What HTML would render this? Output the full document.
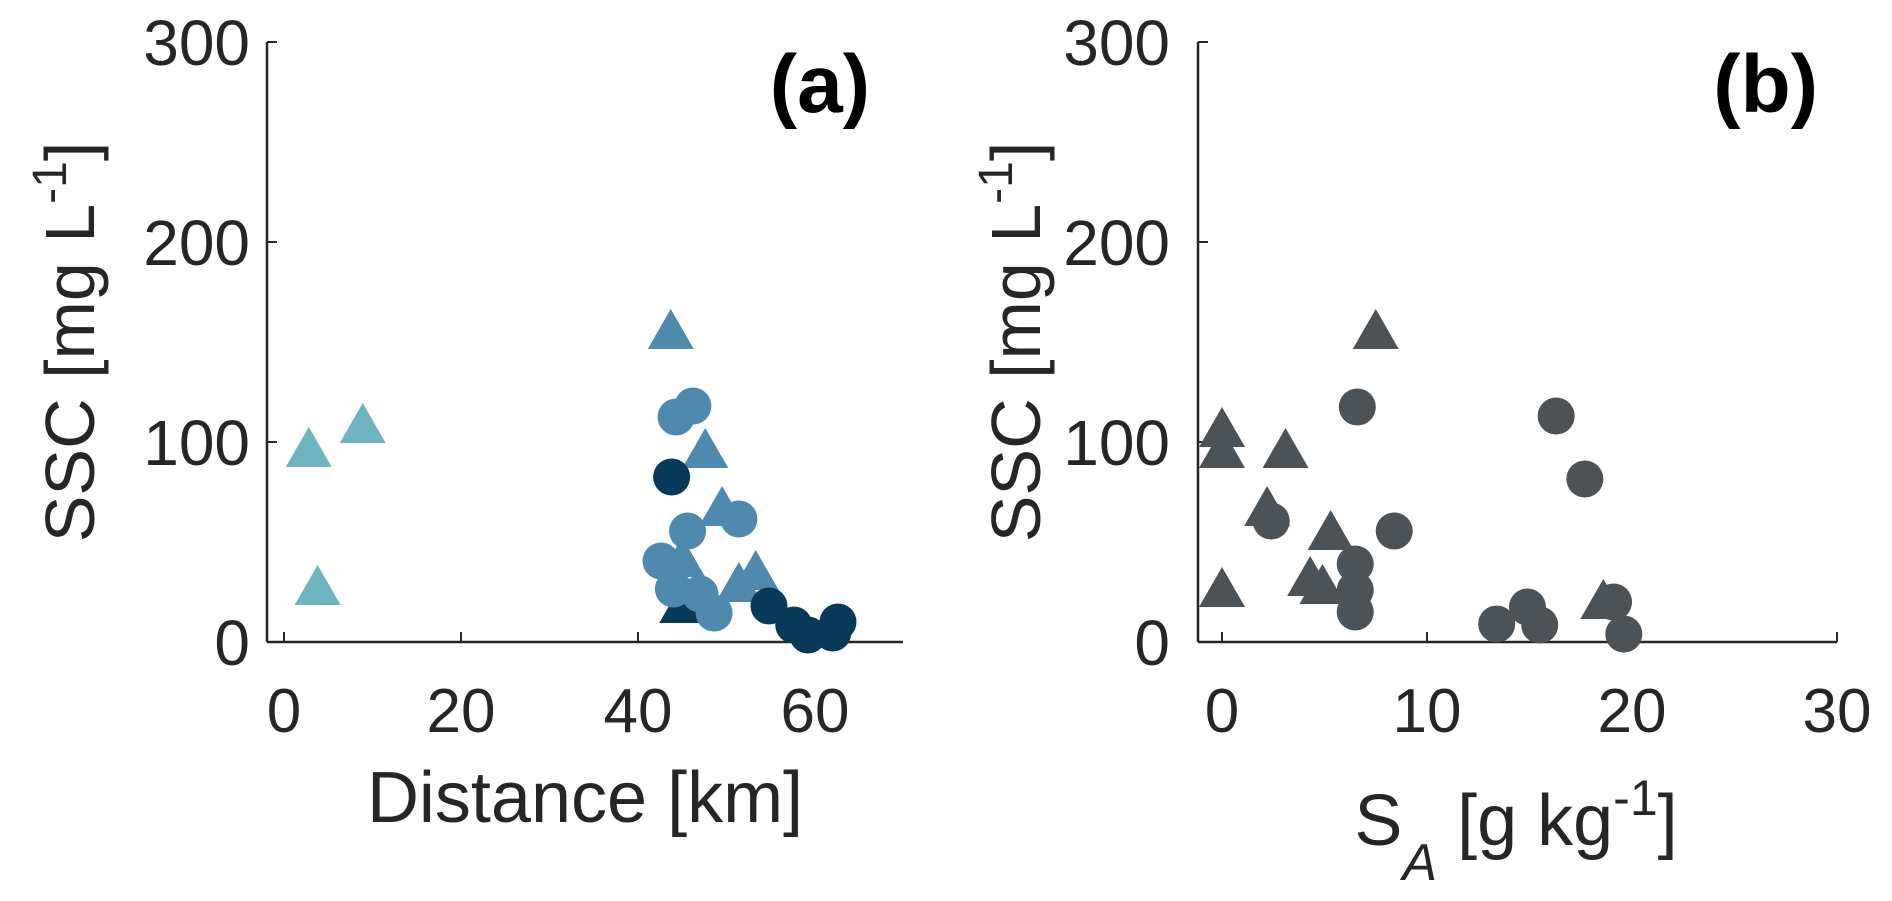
<!DOCTYPE html>
<html><head><meta charset="utf-8"><style>
html,body{margin:0;padding:0;background:#fff;}
svg{display:block;font-family:"Liberation Sans",sans-serif;}
</style></head><body>
<svg id="fig" width="1892" height="901" viewBox="0 0 1892 901"></svg>
<script>
// ---------- data ----------
const yTicks = [0, 100, 200, 300];
const xTicksA = [0, 20, 40, 60];
const xTicksB = [0, 10, 20, 30];
// Panel (a): distance [km], SSC [mg/L]
const aTealTriX = [2.8, 8.9, 3.8];
const aTealTriY = [97, 109, 28];
const aBlueTriX = [43.7, 47.6, 49.5, 53.3, 51.4, 45.0];
const aBlueTriY = [156, 96.5, 67.5, 35.5, 29.5, 42];
const aNavyTriX = [45.0];
const aNavyTriY = [19];
const aBlueCirX = [44.3, 46.2, 45.6, 42.6, 44.0, 47.0, 48.6, 51.4];
const aBlueCirY = [112.5, 118, 55.5, 40.5, 26.5, 24, 14.5, 61.5];
const aNavyCirX = [43.8, 54.8, 57.6, 59.2, 62.0, 62.6];
const aNavyCirY = [82.5, 18, 8.5, 3.5, 4.5, 10];
// Panel (b): SA [g/kg], SSC [mg/L]
const bTriX = [0, 0, 3.1, 7.5, 2.2, 5.3, 4.3, 4.9, 0, 18.6];
const bTriY = [107, 96.5, 96.5, 156, 67.5, 55.5, 32.5, 28.5, 27, 21];
const bCirX = [6.6, 16.3, 17.7, 8.4, 2.4, 6.5, 6.5, 6.5, 13.4, 14.9, 15.5, 19.1, 19.6];
const bCirY = [117.5, 113, 81.5, 55.5, 60.5, 39, 26, 15, 9, 17.5, 8.5, 20, 4];

// ---------- layout ----------
const NS = "http://www.w3.org/2000/svg";
const svg = document.getElementById('fig');
function mk(tag, attrs, parent){const e=document.createElementNS(NS,tag);for(const k in attrs)e.setAttribute(k,attrs[k]);(parent||svg).appendChild(e);return e;}
const yTop = 42, yBot = 642;
function yScale(v){return yBot - (v/300)*(yBot-yTop);}
function xA(v){return 284 + v*8.85;}
function xB(v){return 1222 + v*20.5;}

function axes(name, xs, x0, x1, ticks, ylabelX, tickRight){
  const g = mk('g',{});
  
  
  const yl = mk('line',{x1:x0,y1:yTop,x2:x0,y2:yBot,stroke:'#262626','stroke-width':2.5},g);
  
  
  const xl = mk('line',{x1:x0,y1:yBot,x2:x1,y2:yBot,stroke:'#262626','stroke-width':2.5},g);
  
  
  yTicks.forEach(v=>{
    const y=yScale(v);
    mk('line',{x1:x0,y1:y,x2:x0+10,y2:y,stroke:'#262626','stroke-width':2},g);
    const t=mk('text',{x:tickRight,y:y+23,'text-anchor':'end','font-size':64,fill:'#262626'},g);
    t.textContent=v;
    
    
  });
  ticks.forEach(v=>{
    const x=xs(v);
    mk('line',{x1:x,y1:yBot,x2:x,y2:yBot-10,stroke:'#262626','stroke-width':2},g);
    const t=mk('text',{x:x,y:732,'text-anchor':'middle','font-size':62,fill:'#262626'},g);
    t.textContent=v;
    
    
  });
  const yt=mk('text',{x:0,y:0,'text-anchor':'middle','font-size':70,fill:'#262626',transform:`translate(${ylabelX},342) rotate(-90)`},g);
  
  
  yt.appendChild(document.createTextNode('SSC [mg L'));
  const sup=mk('tspan',{dy:-28,'font-size':48},yt); sup.textContent='-1';
  const cl=mk('tspan',{dy:28},yt); cl.textContent=']';
  return g;
}
axes('panel-a-axes', xA, 267, 903, xTicksA, 94, 250);
axes('panel-b-axes', xB, 1198, 1837, xTicksB, 1040, 1170);

// x titles
const xtA=mk('text',{x:585,y:822,'text-anchor':'middle','font-size':72,fill:'#262626'});
xtA.textContent='Distance [km]';


const xtB=mk('text',{x:1516,y:845,'text-anchor':'middle','font-size':72,fill:'#262626'});


xtB.appendChild(document.createTextNode('S'));
const sub=mk('tspan',{dy:35,'font-size':52,'font-style':'italic'},xtB); sub.textContent='A';
const r1=mk('tspan',{dy:-35},xtB); r1.textContent=' [g kg';
const s2=mk('tspan',{dy:-30,'font-size':50},xtB); s2.textContent='-1';
const r2=mk('tspan',{dy:30},xtB); r2.textContent=']';

// panel letters
const la=mk('text',{x:870,y:112,'text-anchor':'end','font-size':82,'font-weight':'bold',fill:'#000'});
la.textContent='(a)';


const lb=mk('text',{x:1818,y:112,'text-anchor':'end','font-size':82,'font-weight':'bold',fill:'#000'});
lb.textContent='(b)';



// markers
function tri(xs, xv, yv, color, name){
  xv.forEach((v,i)=>{
    const cx=xs(v), cy=yScale(yv[i]);
    const p=mk('polygon',{points:`${cx},${cy-21} ${cx-23},${cy+19} ${cx+23},${cy+19}`,fill:color});
    
    
  });
}
function cir(xs, xv, yv, color, name){
  xv.forEach((v,i)=>{
    const c=mk('circle',{cx:xs(v),cy:yScale(yv[i]),r:18.5,fill:color});
    
    
  });
}
tri(xA, aTealTriX, aTealTriY, '#6db3c0', 'point-a-teal-triangle');
tri(xA, aNavyTriX, aNavyTriY, '#073a58', 'point-a-navy-triangle');
tri(xA, aBlueTriX, aBlueTriY, '#4f89ae', 'point-a-blue-triangle');
cir(xA, aBlueCirX, aBlueCirY, '#4f89ae', 'point-a-blue-circle');
cir(xA, aNavyCirX, aNavyCirY, '#073a58', 'point-a-navy-circle');
tri(xB, bTriX, bTriY, '#4d5257', 'point-b-triangle');
cir(xB, bCirX, bCirY, '#4d5257', 'point-b-circle');
</script>
</body></html>
